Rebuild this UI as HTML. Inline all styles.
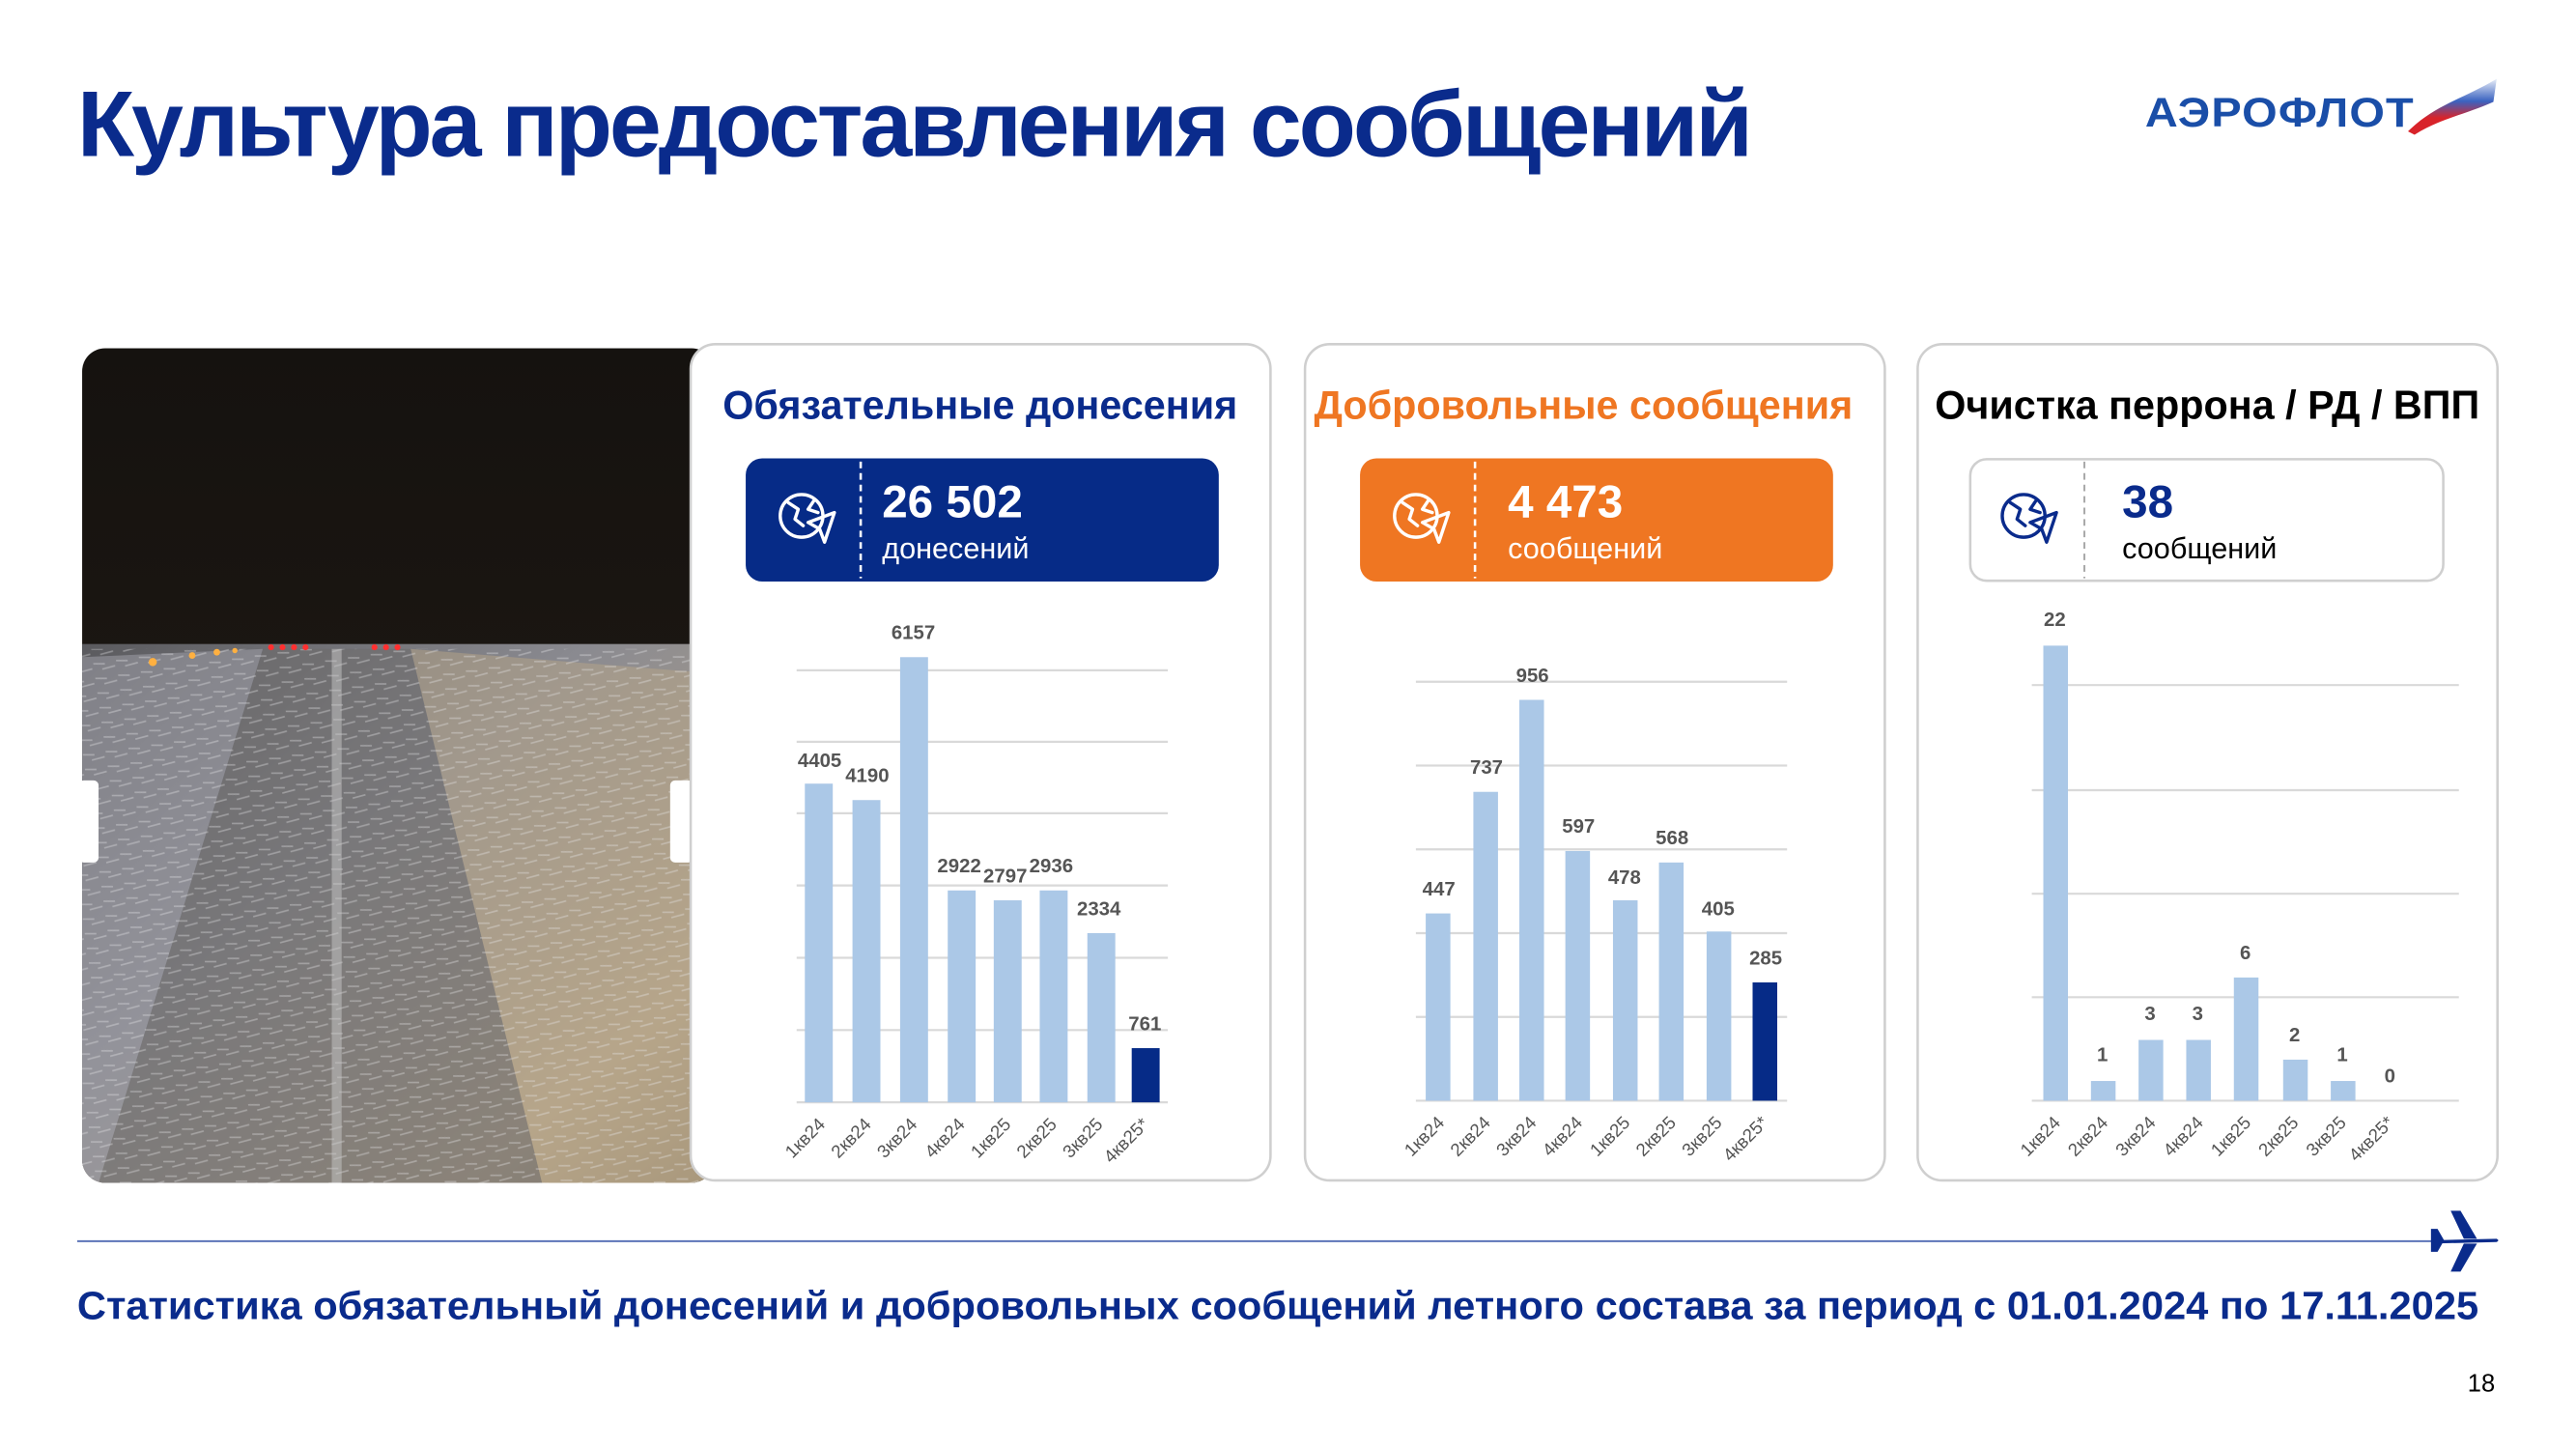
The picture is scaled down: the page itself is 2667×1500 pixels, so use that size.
<!DOCTYPE html>
<html><head><meta charset="utf-8"><style>
html,body{margin:0;padding:0;background:#fff;}
svg{display:block;}
text{font-family:"Liberation Sans",sans-serif;}
</style></head><body>
<svg width="2667" height="1500" viewBox="0 0 1568.3 882" preserveAspectRatio="none" xmlns="http://www.w3.org/2000/svg">
<defs>
<clipPath id="ph"><rect x="50" y="212" width="385" height="508" rx="14"/></clipPath>
<linearGradient id="sky" x1="0" y1="0" x2="0" y2="1">
<stop offset="0" stop-color="#15120f"/><stop offset="1" stop-color="#231c16"/></linearGradient>
<linearGradient id="snow" x1="0" y1="0" x2="1" y2="1">
<stop offset="0" stop-color="#5a5a5e"/><stop offset="0.4" stop-color="#8a8a90"/><stop offset="0.8" stop-color="#b5a58c"/><stop offset="1" stop-color="#9a8a70"/></linearGradient>
<linearGradient id="flag" x1="0" y1="0" x2="0" y2="1">
<stop offset="0" stop-color="#e8eef8"/><stop offset="0.4" stop-color="#3a62c0"/><stop offset="0.7" stop-color="#d8232a"/><stop offset="1" stop-color="#d8232a"/></linearGradient>
<pattern id="tex" width="14" height="9" patternUnits="userSpaceOnUse" patternTransform="rotate(-8)">
<path d="M0 3 L7 4 M5 7 L13 6" stroke="#e8e8ea" stroke-width="1" opacity="0.35"/></pattern>
</defs>
<rect width="1568.3" height="882" fill="#fff"/>
<text x="47" y="95" font-size="57" font-weight="bold" fill="#0a2b8c" letter-spacing="-1.8">Культура предоставления сообщений</text>
<!-- logo -->
<text x="1306" y="77" font-size="25" font-weight="bold" fill="#1a4ea8" letter-spacing="0.6" textLength="164" lengthAdjust="spacingAndGlyphs">АЭРОФЛОТ</text>
<path d="M1466 80 C1482 64,1500 60,1520 48 L1518 62 C1500 70,1486 72,1470 82 Z" fill="url(#flag)"/>
<!-- photo -->
<g clip-path="url(#ph)">
<rect x="50" y="212" width="385" height="508" fill="url(#sky)"/>
<rect x="50" y="392" width="385" height="330" fill="url(#snow)"/>
<polygon points="160,395 250,395 330,720 60,720" fill="#6e6c6c" opacity="0.6"/>
<polygon points="50,400 160,395 60,720 50,720" fill="#9a9aa2" opacity="0.6"/>
<polygon points="250,395 435,410 435,720 330,720" fill="#b8a688" opacity="0.5"/>
<rect x="50" y="395" width="385" height="325" fill="url(#tex)"/>
<rect x="202" y="395" width="6" height="325" fill="#c8c8c8" opacity="0.5"/>
<g fill="#ff3030"><circle cx="165" cy="394" r="1.8"/><circle cx="172" cy="394" r="1.8"/><circle cx="179" cy="394" r="1.8"/><circle cx="186" cy="394" r="1.8"/><circle cx="228" cy="394" r="1.8"/><circle cx="235" cy="394" r="1.8"/><circle cx="242" cy="394" r="1.8"/></g>
<g fill="#ffb040"><circle cx="93" cy="403" r="2.5"/><circle cx="117" cy="399" r="2"/><circle cx="132" cy="397" r="2"/><circle cx="143" cy="396" r="1.6"/></g>
</g>
<rect x="48" y="475" width="12" height="50" rx="3" fill="#fff"/>
<rect x="408" y="475" width="14" height="50" rx="3" fill="#fff"/>
<!-- cards -->
<rect x="420.5" y="209.5" width="353" height="509" rx="15" fill="#fff" stroke="#cfcfcf" stroke-width="1.5"/>
<rect x="794.5" y="209.5" width="353" height="509" rx="15" fill="#fff" stroke="#cfcfcf" stroke-width="1.5"/>
<rect x="1167.5" y="209.5" width="353" height="509" rx="15" fill="#fff" stroke="#cfcfcf" stroke-width="1.5"/>
<text x="440" y="255" font-size="24.3" font-weight="bold" fill="#0a2b8c">Обязательные донесения</text>
<text x="800" y="255" font-size="24.3" font-weight="bold" fill="#ef7622">Добровольные сообщения</text>
<text x="1178" y="255" font-size="24.3" font-weight="bold" fill="#000">Очистка перрона / РД / ВПП</text>
<!-- boxes -->
<rect x="454" y="279" width="288" height="75" rx="10" fill="#062b87"/>
<line x1="524" y1="281" x2="524" y2="352" stroke="#fff" stroke-width="1.5" stroke-dasharray="4,3"/>
<text x="537" y="315" font-size="28" font-weight="bold" fill="#fff">26 502</text>
<text x="537" y="340" font-size="18" fill="#fff">донесений</text>
<rect x="828" y="279" width="288" height="75" rx="10" fill="#ef7622"/>
<line x1="898" y1="281" x2="898" y2="352" stroke="#fff" stroke-width="1.5" stroke-dasharray="4,3"/>
<text x="918" y="315" font-size="28" font-weight="bold" fill="#fff">4 473</text>
<text x="918" y="340" font-size="18" fill="#fff">сообщений</text>
<rect x="1199.5" y="279.5" width="288" height="74" rx="10" fill="#fff" stroke="#cfcfcf" stroke-width="1.5"/>
<line x1="1269" y1="281" x2="1269" y2="352" stroke="#aaa" stroke-width="1.2" stroke-dasharray="4,3"/>
<text x="1292" y="315" font-size="28" font-weight="bold" fill="#0a2b8c">38</text>
<text x="1292" y="340" font-size="18" fill="#000">сообщений</text>
<!-- icons -->
<g fill="none" stroke-width="2" stroke-linecap="round" stroke-linejoin="round">
<g stroke="#fff"><circle cx="488" cy="314" r="13"/><path d="M480 306 l6 4 -2 6 5 4 M496 304 l-4 6 6 2"/><path d="M492 318 l16 -6 -6 18 -3 -8 z"/></g>
<g stroke="#fff"><circle cx="862" cy="314" r="13"/><path d="M854 306 l6 4 -2 6 5 4 M870 304 l-4 6 6 2"/><path d="M866 318 l16 -6 -6 18 -3 -8 z"/></g>
<g stroke="#0a2b8c"><circle cx="1232" cy="314" r="13"/><path d="M1224 306 l6 4 -2 6 5 4 M1240 304 l-4 6 6 2"/><path d="M1236 318 l16 -6 -6 18 -3 -8 z"/></g>
</g>
<!-- chart 1 -->
<g stroke="#d9d9d9" stroke-width="1.3">
<line x1="485" x2="711" y1="408" y2="408"/><line x1="485" x2="711" y1="451.5" y2="451.5"/><line x1="485" x2="711" y1="495" y2="495"/><line x1="485" x2="711" y1="539" y2="539"/><line x1="485" x2="711" y1="583" y2="583"/><line x1="485" x2="711" y1="627" y2="627"/><line x1="485" x2="711" y1="671" y2="671"/>
</g>
<g fill="#abc8e7">
<rect x="490" y="477" width="17" height="194"/><rect x="519" y="487" width="17" height="184"/><rect x="548" y="400" width="17" height="271"/><rect x="577" y="542" width="17" height="129"/><rect x="605" y="548" width="17" height="123"/><rect x="633" y="542" width="17" height="129"/><rect x="662" y="568" width="17" height="103"/>
</g>
<rect x="689" y="638" width="17" height="33" fill="#062b87"/>
<g font-size="12" font-weight="bold" fill="#555" text-anchor="middle">
<text x="499" y="467">4405</text><text x="528" y="476">4190</text><text x="556" y="389">6157</text><text x="584" y="531">2922</text><text x="612" y="537">2797</text><text x="640" y="531">2936</text><text x="669" y="557">2334</text><text x="697" y="627">761</text>
</g>
<g font-size="11" fill="#555" text-anchor="end">
<text transform="translate(503,685) rotate(-45)">1кв24</text><text transform="translate(531,685) rotate(-45)">2кв24</text><text transform="translate(559,685) rotate(-45)">3кв24</text><text transform="translate(588,685) rotate(-45)">4кв24</text><text transform="translate(616,685) rotate(-45)">1кв25</text><text transform="translate(644,685) rotate(-45)">2кв25</text><text transform="translate(672,685) rotate(-45)">3кв25</text><text transform="translate(700,685) rotate(-45)">4кв25*</text>
</g>
<!-- chart 2 -->
<g stroke="#d9d9d9" stroke-width="1.3">
<line x1="862" x2="1088" y1="415" y2="415"/><line x1="862" x2="1088" y1="466" y2="466"/><line x1="862" x2="1088" y1="517" y2="517"/><line x1="862" x2="1088" y1="568" y2="568"/><line x1="862" x2="1088" y1="619" y2="619"/><line x1="862" x2="1088" y1="670" y2="670"/>
</g>
<g fill="#abc8e7">
<rect x="868" y="556" width="15" height="114"/><rect x="897" y="482" width="15" height="188"/><rect x="925" y="426" width="15" height="244"/><rect x="953" y="518" width="15" height="152"/><rect x="982" y="548" width="15" height="122"/><rect x="1010" y="525" width="15" height="145"/><rect x="1039" y="567" width="15" height="103"/>
</g>
<rect x="1067" y="598" width="15" height="72" fill="#062b87"/>
<g font-size="12" font-weight="bold" fill="#555" text-anchor="middle">
<text x="876" y="545">447</text><text x="905" y="471">737</text><text x="933" y="415">956</text><text x="961" y="507">597</text><text x="989" y="538">478</text><text x="1018" y="514">568</text><text x="1046" y="557">405</text><text x="1075" y="587">285</text>
</g>
<g font-size="11" fill="#555" text-anchor="end">
<text transform="translate(880,684) rotate(-45)">1кв24</text><text transform="translate(908,684) rotate(-45)">2кв24</text><text transform="translate(936,684) rotate(-45)">3кв24</text><text transform="translate(964,684) rotate(-45)">4кв24</text><text transform="translate(993,684) rotate(-45)">1кв25</text><text transform="translate(1021,684) rotate(-45)">2кв25</text><text transform="translate(1049,684) rotate(-45)">3кв25</text><text transform="translate(1077,684) rotate(-45)">4кв25*</text>
</g>
<!-- chart 3 -->
<g stroke="#d9d9d9" stroke-width="1.3">
<line x1="1237" x2="1497" y1="417" y2="417"/><line x1="1237" x2="1497" y1="481" y2="481"/><line x1="1237" x2="1497" y1="544" y2="544"/><line x1="1237" x2="1497" y1="607" y2="607"/><line x1="1237" x2="1497" y1="670" y2="670"/>
</g>
<g fill="#abc8e7">
<rect x="1244" y="393" width="15" height="277"/><rect x="1273" y="658" width="15" height="12"/><rect x="1302" y="633" width="15" height="37"/><rect x="1331" y="633" width="15" height="37"/><rect x="1360" y="595" width="15" height="75"/><rect x="1390" y="645" width="15" height="25"/><rect x="1419" y="658" width="15" height="12"/>
</g>
<g font-size="12" font-weight="bold" fill="#555" text-anchor="middle">
<text x="1251" y="381">22</text><text x="1280" y="646">1</text><text x="1309" y="621">3</text><text x="1338" y="621">3</text><text x="1367" y="584">6</text><text x="1397" y="634">2</text><text x="1426" y="646">1</text><text x="1455" y="659">0</text>
</g>
<g font-size="11" fill="#555" text-anchor="end">
<text transform="translate(1255,684) rotate(-45)">1кв24</text><text transform="translate(1284,684) rotate(-45)">2кв24</text><text transform="translate(1313,684) rotate(-45)">3кв24</text><text transform="translate(1342,684) rotate(-45)">4кв24</text><text transform="translate(1371,684) rotate(-45)">1кв25</text><text transform="translate(1400,684) rotate(-45)">2кв25</text><text transform="translate(1429,684) rotate(-45)">3кв25</text><text transform="translate(1458,684) rotate(-45)">4кв25*</text>
</g>
<!-- bottom -->
<line x1="47" x2="1482" y1="755.5" y2="755.5" stroke="#5c74b8" stroke-width="1.2"/>
<path d="M1480 755 L1520 754 Q1522 755 1520 756 L1480 757 Z M1492 737 L1498 737 L1508 754 L1500 754 Z M1492 774 L1498 774 L1508 757 L1500 757 Z M1480 748 L1484 748 L1488 755 L1484 762 L1480 762 Z" fill="#0a2b8c"/>
<text x="47" y="803" font-size="24" font-weight="bold" fill="#0a2b8c" textLength="1462" lengthAdjust="spacingAndGlyphs">Статистика обязательный донесений и добровольных сообщений летного состава за период с 01.01.2024 по 17.11.2025</text>
<text x="1519" y="847" font-size="15" fill="#000" text-anchor="end">18</text>
</svg>
</body></html>
